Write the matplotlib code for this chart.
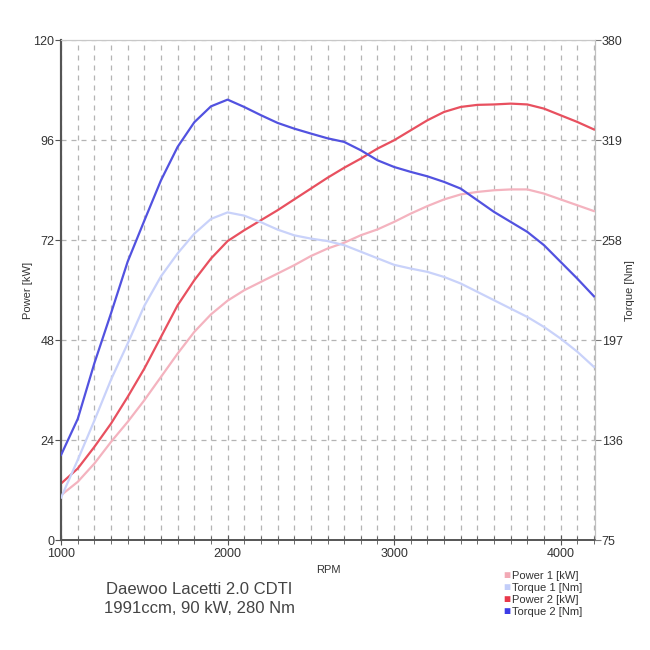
import numpy as np
import matplotlib
matplotlib.use('Agg')
import matplotlib.pyplot as plt
from matplotlib.ticker import MultipleLocator

plt.rcParams['font.family'] = ['Liberation Sans', 'DejaVu Sans']

# engine speed, every 100 rpm
rpm = list(range(1000, 4300, 100))

# stock curves
power_1 = [10.8, 14.0, 18.4, 23.6, 28.4, 33.6, 39.2, 44.8, 50.0, 54.2, 57.5,
           60.0, 62.0, 64.0, 66.0, 68.2, 70.0, 71.4, 73.2, 74.6, 76.4, 78.4,
           80.2, 81.8, 83.0, 83.6, 84.0, 84.2, 84.2, 83.2, 81.8, 80.4, 79.0]
torque_1 = [101, 124, 148, 173, 195, 218, 236, 250, 262, 271, 275,
            273, 269, 264.5, 261, 259, 257.5, 255, 251, 247, 243, 240.7,
            238.7, 235.6, 231.6, 226.5, 221.4, 216.3, 211.2, 205.1, 198, 190, 180.7]

# tuned curves
power_2 = [13.6, 17.2, 22.4, 28.0, 34.4, 41.2, 48.8, 56.4, 62.4, 67.6, 71.8,
           74.4, 76.8, 79.2, 81.8, 84.4, 87.0, 89.4, 91.6, 94.0, 96.0, 98.4,
           100.8, 102.8, 104.0, 104.5, 104.6, 104.8, 104.6, 103.6, 102.0, 100.4, 98.6]
torque_2 = [127, 149, 183, 213.5, 245, 270, 294.6, 315, 330, 339.7, 343.8,
            339.3, 334.3, 329.6, 326.1, 323.1, 320.2, 318, 312.9, 306.8, 302.7, 299.7,
            297, 293.6, 289.5, 282.4, 275.3, 269.2, 263.1, 255, 244.8, 234.6, 223.8]

c_p1 = '#f4b3bf'
c_t1 = '#c9d2fa'
c_p2 = '#e8505f'
c_t2 = '#5252e0'

fig = plt.figure(figsize=(6.5, 6.5), dpi=100)
ax = fig.add_axes([0.094, 0.169, 0.821, 0.769])
ax2 = ax.twinx()

ax.plot(rpm, power_1, color=c_p1, lw=1.6, zorder=3)
ax2.plot(rpm, torque_1, color=c_t1, lw=1.6, zorder=3)
ax.plot(rpm, power_2, color=c_p2, lw=1.6, zorder=3)
ax2.plot(rpm, torque_2, color=c_t2, lw=1.6, zorder=3)

ax.set_xlim(1000, 4205)
ax.set_ylim(0, 120)
ax2.set_ylim(75, 380)
ax.set_yticks([0, 24, 48, 72, 96, 120])
ax2.set_yticks([75, 136, 197, 258, 319, 380])
ax.set_xticks([1000, 2000, 3000, 4000])
ax.xaxis.set_minor_locator(MultipleLocator(100))

# grid
ax.grid(True, which='both', axis='x', color='#b4b4b4', ls=(0, (4, 4)), lw=0.9)
ax.grid(True, which='major', axis='y', color='#b4b4b4', ls=(0, (4, 4)), lw=0.9)
ax.set_axisbelow(True)

for a in (ax, ax2):
    a.spines['top'].set_color('#c8c8c8')
    a.spines['right'].set_color('#c0c0c0')
    a.spines['left'].set_color('#555555')
    a.spines['bottom'].set_color('#555555')
    a.spines['left'].set_linewidth(1.5)
    a.spines['bottom'].set_linewidth(1.2)

ax.tick_params(axis='y', direction='out', length=4, color='#555555', labelsize=9, labelcolor='#333333', pad=1)
ax.tick_params(axis='x', which='major', direction='inout', length=7, color='#555555', labelsize=9, labelcolor='#333333', pad=2)
ax.tick_params(axis='x', which='minor', direction='inout', length=6, color='#555555')
ax2.tick_params(axis='y', direction='out', length=4, color='#777777', labelsize=9, labelcolor='#333333', pad=1)

ax.set_ylabel('Power [kW]', fontsize=8, color='#333333', labelpad=0)
ax2.set_ylabel('Torque [Nm]', fontsize=8, color='#333333', labelpad=2)
ax.set_xlabel('RPM', fontsize=8, color='#333333', labelpad=4)

fig.text(0.307, 0.093, 'Daewoo Lacetti 2.0 CDTI', ha='center', va='center', fontsize=12, color='#444444')
fig.text(0.307, 0.064, '1991ccm, 90 kW, 280 Nm', ha='center', va='center', fontsize=12, color='#444444')

# legend with small square swatches
names = ['Power 1 [kW]', 'Torque 1 [Nm]', 'Power 2 [kW]', 'Torque 2 [Nm]']
swatch = ['#f2a9b5', '#c2cdf9', '#e8384a', '#3c3ce6']
for i, (n, c) in enumerate(zip(names, swatch)):
    y = 0.114 - i * 0.0186
    fig.text(0.775, y, '\u25a0', color=c, fontsize=8.5, ha='left', va='center')
    fig.text(0.788, y, n, color='#333333', fontsize=8, ha='left', va='center')

fig.savefig('out.png', dpi=100, facecolor='white')
